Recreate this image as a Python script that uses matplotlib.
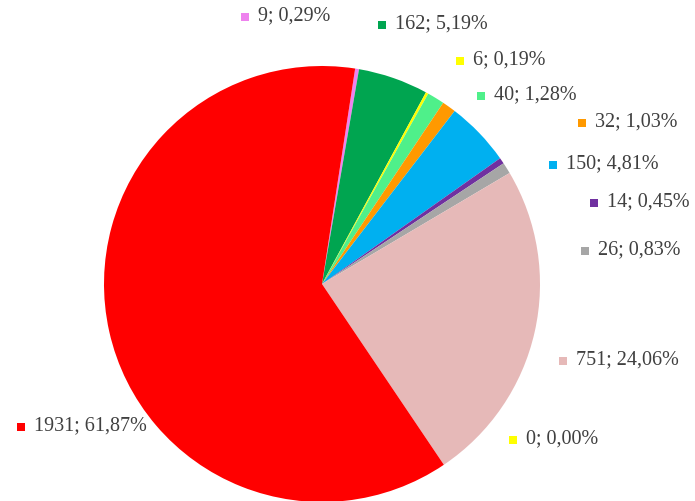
import numpy as np
import matplotlib.pyplot as plt

plt.rcParams['font.family'] = ['Liberation Serif', 'DejaVu Serif']

# slices, clockwise from the pink one near 12 o'clock
values = [9, 162, 6, 40, 32, 150, 14, 26, 751, 0, 1931]
percents = ['0,29', '5,19', '0,19', '1,28', '1,03', '4,81', '0,45', '0,83', '24,06', '0,00', '61,87']
colors = ['#EE82EE', '#00A550', '#FFFF00', '#4FF08A', '#FF9900', '#00B0F0',
          '#7030A0', '#A6A6A6', '#E6B9B8', '#FFFF00', '#FF0000']

# label anchor (square centre) in image pixels
label_pos = [(245, 17), (382, 25), (460, 61), (481, 96), (582, 123), (553, 165),
             (594, 203), (585, 251), (563, 361), (513, 440), (21, 427)]

W, H = 695, 501
fig = plt.figure(figsize=(W / 100, H / 100), dpi=100)
ax = fig.add_axes([0, 0, 1, 1])

cx, cy, r = 322, H - 284, 218
start = 90 - 8.75
ax.pie(values, colors=colors, startangle=start, counterclock=False,
       center=(cx, cy), radius=r, frame=True,
       wedgeprops=dict(linewidth=0))

for (x, y), v, p, c in zip(label_pos, values, percents, colors):
    ax.scatter(x, H - y, marker='s', s=36, color=c, linewidths=0)
    ax.text(x + 13, H - y + 1, f'{v}; {p}%', fontsize=14.5, color='#404040',
            va='center', ha='left')

ax.set_xlim(0, W)
ax.set_ylim(0, H)
ax.set_aspect('auto')
ax.axis('off')

fig.savefig('out.png', dpi=100)
